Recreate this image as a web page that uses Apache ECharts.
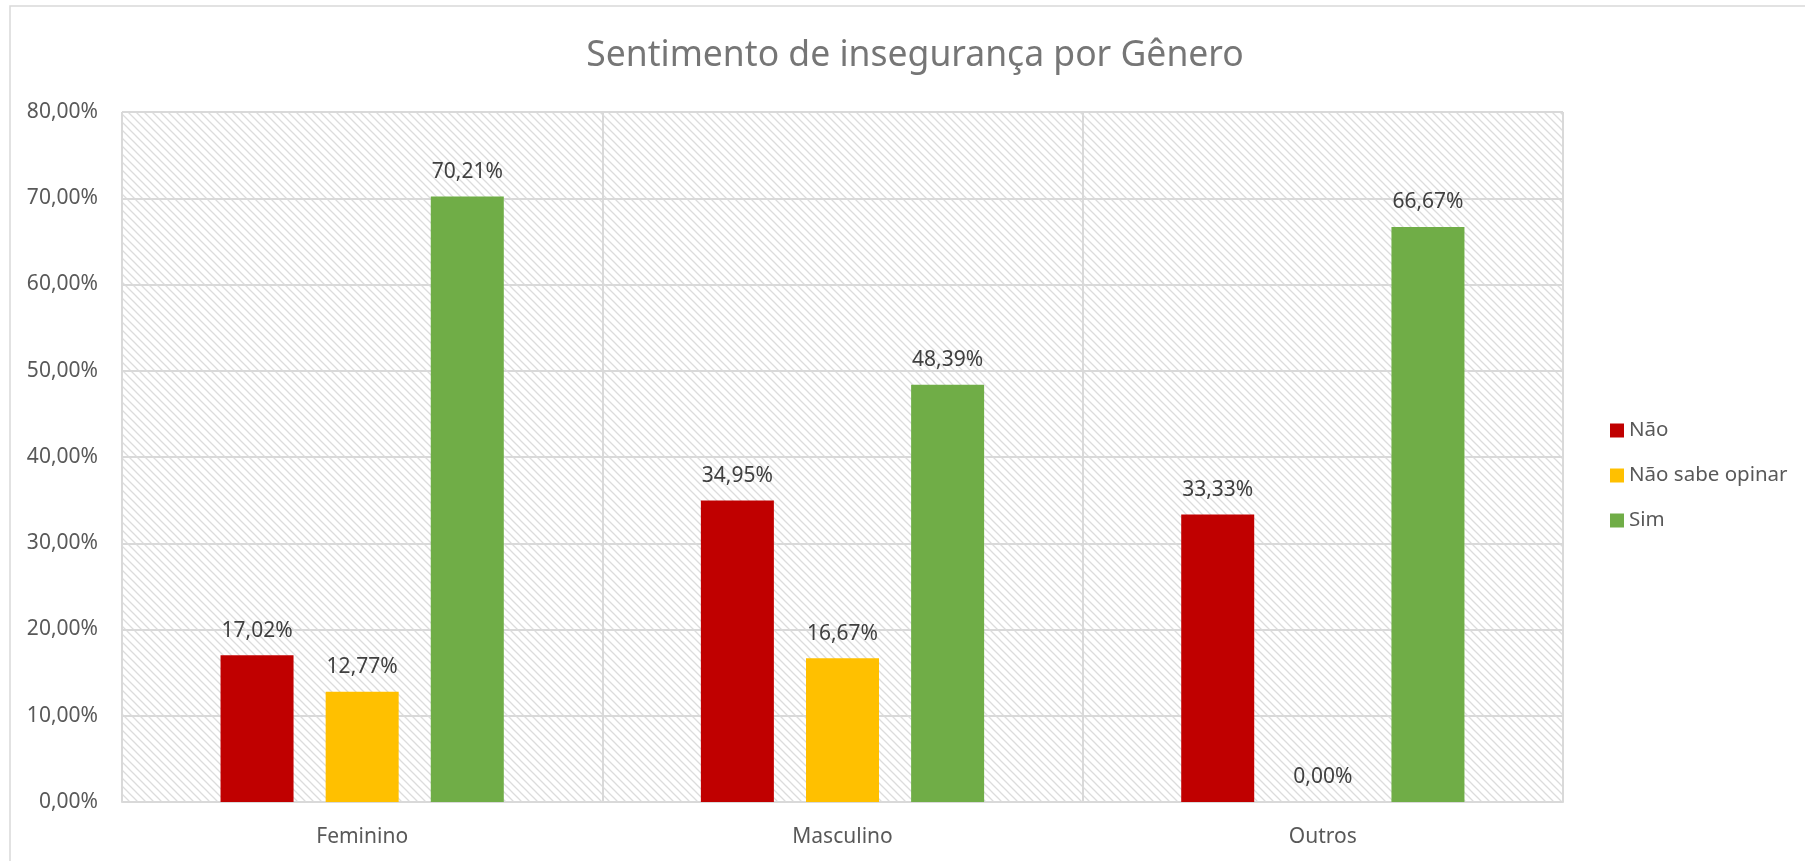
<!DOCTYPE html>
<html>
<head>
<meta charset="utf-8">
<script src="https://cdn.jsdelivr.net/npm/echarts@6/dist/echarts.min.js"></script>
<style>
  html, body { margin: 0; padding: 0; background: #fff; }
  #chart { width: 1805px; height: 861px; }
</style>
</head>
<body>
<div id="chart"></div>
<script>
// dados (percentuais)
const generos = ["Feminino", "Masculino", "Outros"];
const nao = [17.02, 34.95, 33.33];
const naoSabe = [12.77, 16.67, 0.00];
const sim = [70.21, 48.39, 66.67];
const serieNomes = ["Não", "Não sabe opinar", "Sim"];
const cores = ["#C00000", "#FFC000", "#70AD47"];

const fonte = "'Noto Sans', 'Open Sans', sans-serif";

function pct(v) {
  return v.toFixed(2).replace(".", ",") + "%";
}

// hachura diagonal do fundo da área de plotagem
function hachura() {
  const c = document.createElement("canvas");
  c.width = 8;
  c.height = 8;
  const ctx = c.getContext("2d");
  ctx.fillStyle = "#ffffff";
  ctx.fillRect(0, 0, 8, 8);
  ctx.strokeStyle = "#dcdcdc";
  ctx.lineWidth = 1.3;
  ctx.beginPath();
  ctx.moveTo(-2, -2);
  ctx.lineTo(10, 10);
  ctx.moveTo(-2, 6);
  ctx.lineTo(2, 10);
  ctx.moveTo(6, -2);
  ctx.lineTo(10, 2);
  ctx.stroke();
  return c;
}

const myChart = echarts.init(document.getElementById("chart"));

const dados = [nao, naoSabe, sim];
const series = dados.map(function (d, i) {
  return {
    name: serieNomes[i],
    type: "bar",
    data: d,
    barWidth: 73,
    barGap: "44%",
    itemStyle: { color: cores[i] },
    label: {
      show: true,
      position: "top",
      distance: 14,
      color: "#404040",
      fontFamily: fonte,
      fontSize: 21,
      formatter: function (p) { return pct(p.value); }
    }
  };
});

const option = {
  backgroundColor: "#fff",
  animation: false,
  title: {
    text: "Sentimento de insegurança por Gênero",
    left: 910,
    textAlign: "center",
    top: 33,
    textStyle: {
      color: "#767676",
      fontFamily: fonte,
      fontSize: 35.5,
      fontWeight: "normal"
    }
  },
  legend: {
    orient: "vertical",
    left: 1605,
    top: 415,
    itemWidth: 14,
    itemHeight: 14,
    itemGap: 24,
    icon: "rect",
    data: serieNomes,
    textStyle: { color: "#595959", fontFamily: fonte, fontSize: 20.5 }
  },
  grid: {
    left: 122,
    right: 242,
    top: 112,
    bottom: 59,
    show: true,
    borderWidth: 0,
    backgroundColor: { image: hachura(), repeat: "repeat" }
  },
  graphic: [{
    type: "rect",
    silent: true,
    z: -1,
    shape: { x: 10, y: 6, width: 1800, height: 860 },
    style: { fill: "none", stroke: "#d9d9d9", lineWidth: 1.5 }
  }],
  xAxis: {
    type: "category",
    data: generos,
    axisTick: { show: false },
    axisLine: { lineStyle: { color: "#d9d9d9", width: 2 } },
    splitLine: { show: true, lineStyle: { color: "#d9d9d9", width: 2 } },
    axisLabel: {
      color: "#595959",
      fontFamily: fonte,
      fontSize: 21,
      margin: 25
    }
  },
  yAxis: {
    type: "value",
    min: 0,
    max: 80,
    interval: 10,
    axisLine: { show: false },
    axisTick: { show: false },
    splitLine: { lineStyle: { color: "#d9d9d9", width: 2 } },
    axisLabel: {
      color: "#595959",
      fontFamily: fonte,
      fontSize: 21,
      margin: 24,
      formatter: function (v) { return pct(v); }
    }
  },
  series: series
};

myChart.setOption(option);
</script>
</body>
</html>
